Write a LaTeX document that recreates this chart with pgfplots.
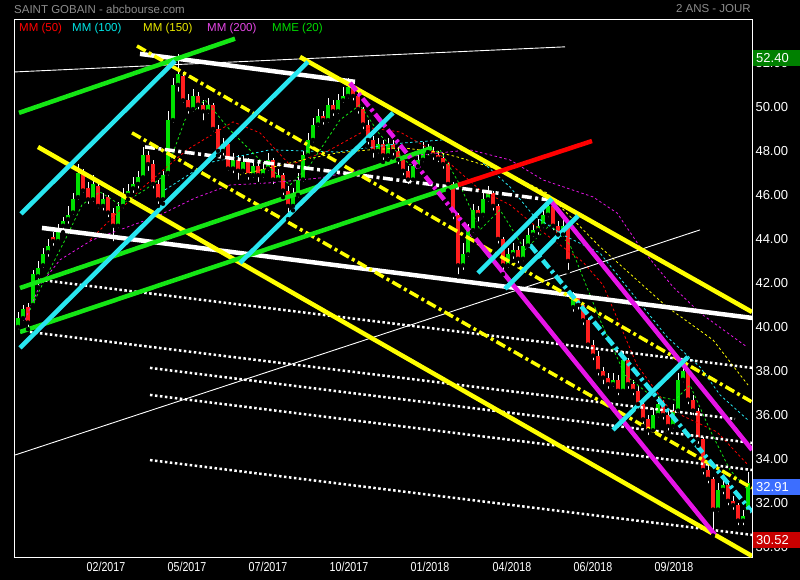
\documentclass[border=0pt]{standalone}
\usepackage{pgfplots}
\pgfplotsset{compat=1.18}
\usepackage{pgfplotstable}
\usepackage{fontspec}
\setmainfont{Liberation Sans}
\newfontfamily\narrowfont[FakeStretch=0.82]{Liberation Sans}
\definecolor{cy}{RGB}{40,230,240}
\definecolor{gr}{RGB}{20,230,20}
\definecolor{ye}{RGB}{255,255,0}
\definecolor{mg}{RGB}{230,20,230}
\definecolor{rd}{RGB}{255,0,0}
\definecolor{cgreen}{RGB}{0,225,0}
\definecolor{cred}{RGB}{255,30,30}
\definecolor{ttl}{RGB}{140,140,140}
\definecolor{boxg}{RGB}{0,128,0}
\definecolor{boxb}{RGB}{60,110,255}
\definecolor{boxr}{RGB}{200,0,0}

\pgfplotstableread{
x o h l c
18 40.0 40.7 39.8 40.4
23 40.4 41.0 40.2 40.8
28 40.9 41.1 39.9 40.2
33 41.0 42.6 40.9 42.4
38 42.3 43.0 41.8 42.7
43 42.8 43.6 42.6 43.3
48 43.4 44.0 43.1 43.7
53 44.1 44.3 43.6 43.9
58 43.9 44.7 43.8 44.5
63 44.6 45.0 44.3 44.8
68 44.9 45.5 44.6 45.1
73 45.2 46.1 45.0 45.8
78 45.9 47.4 45.7 47.0
83 47.0 47.2 46.0 46.2
88 46.3 46.6 45.5 45.8
93 45.8 46.9 45.6 46.5
98 46.4 46.6 45.3 45.5
103 45.5 46.1 45.2 45.8
108 45.9 46.0 44.9 45.2
113 45.2 45.4 43.8 44.6
118 44.6 45.7 44.4 45.5
123 45.5 46.3 45.3 46.0
128 46.0 46.5 45.8 46.2
133 46.3 46.8 46.0 46.5
138 46.5 47.1 46.2 46.8
143 46.8 48.2 46.7 47.8
148 47.8 48.0 47.0 47.4
153 47.4 47.6 46.2 46.5
158 46.5 46.7 45.5 45.8
163 45.8 47.1 45.6 46.9
168 47.0 49.8 46.8 49.4
173 49.4 51.3 49.2 51.0
178 51.0 52.4 50.6 51.5
183 51.4 51.6 50.1 50.3
188 50.3 50.6 49.6 49.9
193 49.9 50.8 49.7 50.5
198 50.5 50.7 49.8 50.1
203 50.1 50.3 49.3 49.8
208 49.8 50.4 49.6 50.1
213 50.1 50.2 48.8 49.0
218 49.0 49.2 47.8 48.0
223 48.0 48.6 47.7 48.3
228 48.3 48.4 47.0 47.2
233 47.2 47.9 46.9 47.6
238 47.6 47.8 46.6 47.1
243 47.1 47.8 46.9 47.5
248 47.5 47.7 46.6 46.9
253 46.9 47.6 46.7 47.3
258 47.3 47.5 46.5 46.9
263 46.9 47.5 46.7 47.2
268 47.2 47.9 47.0 47.6
273 47.6 47.7 46.4 46.7
278 46.7 47.2 46.5 46.9
283 46.9 47.0 45.9 46.2
288 46.2 46.4 44.9 45.5
293 45.5 46.3 45.3 46.0
298 46.0 47.0 45.8 46.7
303 46.7 48.0 46.5 47.8
308 47.8 48.8 47.6 48.5
313 48.5 49.5 48.3 49.2
318 49.2 49.9 49.0 49.6
323 49.6 49.8 49.1 49.4
328 49.4 50.4 49.2 50.1
333 50.1 50.3 49.5 49.8
338 49.8 50.6 49.6 50.3
343 50.3 50.9 50.1 50.5
348 50.5 51.3 50.3 50.9
353 50.9 51.1 50.2 50.5
358 50.5 50.7 49.6 49.9
363 49.9 50.0 48.9 49.2
368 49.2 49.4 48.2 48.5
373 48.5 48.7 47.6 48.0
378 48.0 48.6 47.8 48.3
383 48.3 48.5 47.5 47.8
388 47.8 48.6 47.6 48.3
393 48.3 48.5 47.7 48.0
398 48.0 48.2 47.3 47.6
403 47.6 47.8 46.8 47.1
408 47.1 47.3 46.4 46.7
413 46.7 47.6 46.5 47.3
418 47.3 47.9 47.1 47.6
423 47.6 48.4 47.4 48.1
428 48.1 48.3 47.7 47.95
433 48.0 48.2 47.5 47.8
438 47.8 48.0 47.4 47.65
443 47.7 47.9 47.1 47.4
448 47.4 47.5 46.2 46.5
453 46.5 46.6 44.8 45.1
458 45.1 45.2 42.3 42.8
463 42.8 43.8 42.5 43.3
468 43.3 44.7 43.1 44.4
473 44.4 45.6 44.2 45.3
478 45.3 45.5 44.7 45.1
483 45.1 46.1 44.9 45.8
488 45.8 46.4 45.6 46.1
493 46.1 46.2 45.2 45.5
498 45.5 45.6 43.7 44.0
503 44.0 44.1 42.4 42.8
508 42.8 43.6 42.6 43.3
513 43.3 43.8 43.0 43.5
518 43.5 43.7 42.8 43.1
523 43.1 44.0 42.9 43.7
528 43.7 44.5 43.5 44.2
533 44.2 44.7 44.0 44.4
538 44.4 44.9 44.1 44.6
543 44.6 45.4 44.4 45.1
548 45.1 45.8 44.9 45.5
553 45.5 45.6 44.3 44.6
558 44.6 44.8 43.9 44.2
563 44.2 44.9 44.0 44.6
568 44.6 44.7 42.5 43.0
573 40.9 41.6 40.6 41.3
578 41.3 41.5 40.7 41.0
583 41.0 41.1 40.0 40.3
588 40.3 40.4 38.9 39.2
593 39.2 39.4 38.4 38.7
598 38.7 38.9 37.7 38.0
603 38.0 38.2 37.3 37.7
608 37.7 37.9 37.1 37.4
613 37.4 37.9 37.2 37.6
618 37.6 37.8 36.8 37.1
623 37.1 38.9 37.0 38.5
628 38.5 38.6 37.1 37.4
633 37.4 37.6 36.8 37.1
638 37.1 37.3 36.2 36.5
643 36.5 36.7 35.5 35.8
648 35.8 36.0 35.0 35.3
653 35.3 36.3 35.1 36.0
658 36.0 36.8 35.8 36.5
663 36.5 36.7 35.7 36.0
668 36.0 36.2 35.2 35.5
673 35.5 36.5 35.3 36.2
678 36.2 37.9 36.0 37.6
683 37.6 38.5 37.4 38.0
688 38.0 38.1 36.4 36.7
693 36.7 36.9 35.9 36.2
698 36.2 36.3 34.6 34.9
703 34.9 35.0 33.2 33.5
708 33.5 33.8 32.8 33.1
713 33.1 33.2 30.52 31.7
718 31.7 32.9 31.5 32.6
723 32.6 33.1 32.3 32.8
728 32.8 32.9 31.8 32.1
733 32.1 32.3 31.6 31.9
738 31.9 32.0 30.9 31.2
743 31.2 31.7 30.9 31.4
748 31.6 33.4 31.5 32.91
}\candles

\begin{document}
\begin{tikzpicture}
\useasboundingbox (0,0) rectangle (800pt,580pt);
\fill[black] (0,0) rectangle (800pt,580pt);
\begin{axis}[
  at={(14pt,22pt)}, anchor=south west,
  scale only axis, width=738pt, height=538pt,
  xmin=14, xmax=752, ymin=29.5, ymax=53.95,
  axis background/.style={fill=black},
  axis line style={white, line width=1pt},
  major tick length=0pt,
  ytick={30,32,...,52},
  yticklabel pos=right,
  /pgf/number format/assume math mode=true,
  yticklabel={\pgfmathprintnumber[fixed,fixed zerofill,precision=2]{\tick}},
  yticklabel style={white, font=\fontsize{13}{15}\selectfont},
  xtick={106,187,268,349,430,512,593,674},
  xticklabels={02/2017,05/2017,07/2017,10/2017,01/2018,04/2018,06/2018,09/2018},
  xticklabel style={white, font=\narrowfont\fontsize{13}{15}\selectfont, yshift=-1pt},
]
% candle wicks
\addplot[only marks, mark=none, forget plot, error bars/.cd, y dir=plus, y explicit, error mark=none,
  error bar style={white, line width=0.7pt}]
  table[x=x, y=l, y error expr=\thisrow{h}-\thisrow{l}] {\candles};
% up bodies
\addplot[only marks, mark=none, forget plot, restrict expr to domain={\thisrow{c}-\thisrow{o}}{0:100},
  error bars/.cd, y dir=plus, y explicit, error mark=none,
  error bar style={cgreen, line width=3.6pt}]
  table[x=x, y=o, y error expr=\thisrow{c}-\thisrow{o}] {\candles};
% down bodies
\addplot[only marks, mark=none, forget plot, restrict expr to domain={\thisrow{o}-\thisrow{c}}{0.0001:100},
  error bars/.cd, y dir=plus, y explicit, error mark=none,
  error bar style={cred, line width=3.6pt}]
  table[x=x, y=c, y error expr=\thisrow{o}-\thisrow{c}] {\candles};

% moving averages
\addplot[rd, line width=0.8pt, dash pattern=on 2.5pt off 2.5pt] coordinates {
(90,43.95) (97,44.27) (140,46.23) (187,48.05) (233,49.32) (260,48.82) (290,47.36) (330,48.05) (370,49.05) (400,48.86) (440,47.82) (480,46.23) (510,45.55) (540,44.41) (583,42.95) (603,41.91) (637,38.27) (670,36.23) (717,35.23) (748,33.73)};
\addplot[cy, line width=0.8pt, dash pattern=on 2.5pt off 2.5pt] coordinates {
(165,46.23) (207,47.45) (270,48.05) (337,47.95) (403,48.36) (443,48.5) (467,48.05) (488,47.27) (510,46.36) (533,45.09) (563,44.18) (600,43.36) (627,41.82) (667,39.55) (700,38.18) (720,36.91) (748,35.77)};
\addplot[ye, line width=0.8pt, dash pattern=on 2.5pt off 2.5pt] coordinates {
(240,46.91) (303,47.59) (337,47.91) (370,48.05) (403,48.14) (437,47.95) (457,47.73) (500,47.14) (547,46.09) (600,43.64) (667,40.91) (713,39.41) (748,37.36)};
\addplot[mg, line width=0.8pt, dash pattern=on 2.5pt off 2.5pt] coordinates {
(25,40.32) (40,41.91) (60,43.05) (92,43.95) (125,44.5) (160,45.09) (195,45.86) (230,46.45) (270,46.55) (320,46.77) (370,47.23) (420,47.82) (470,48.05) (510,47.59) (543,46.68) (593,45.91) (617,45.18) (640,43.64) (673,41.82) (700,40.64) (733,39.55) (747,39.09)};
\addplot[gr, line width=0.8pt, dash pattern=on 2.5pt off 2.5pt] coordinates {
(30,40.77) (48,42.45) (65,43.95) (82,45.55) (100,46.14) (120,45.55) (145,46.23) (165,46.91) (185,49.41) (205,50.32) (230,48.95) (260,47.59) (290,46.45) (310,47.36) (340,49.41) (360,50.09) (380,48.73) (410,47.36) (440,48.05) (460,46.45) (480,44.41) (500,45.32) (525,43.5) (550,44.64) (570,43.73) (600,40.32) (625,37.82) (650,36.91) (675,36.68) (690,37.36) (710,35.32) (730,33.5) (748,32.59)};

% thin white lines
\addplot[white, line width=0.9pt] coordinates {(15,51.59) (565,52.73)};
\addplot[white, line width=0.9pt] coordinates {(15,34.18) (700,44.41)};
% dotted white lines
\addplot[white, line width=2.5pt, dash pattern=on 2.5pt off 2.5pt] coordinates {(40,42.14) (752,38.14)};
\addplot[white, line width=2.5pt, dash pattern=on 2.5pt off 2.5pt] coordinates {(30,39.77) (735,35.82)};
\addplot[white, line width=2.5pt, dash pattern=on 2.5pt off 2.5pt] coordinates {(150,38.14) (752,34.73)};
\addplot[white, line width=2.5pt, dash pattern=on 2.5pt off 2.5pt] coordinates {(150,36.91) (752,33.5)};
\addplot[white, line width=2.5pt, dash pattern=on 2.5pt off 2.5pt] coordinates {(150,33.95) (752,30.55)};
% white thick and dash-dot
\addplot[white, line width=4.5pt] coordinates {(140,52.41) (355,51.14)};
\addplot[white, line width=4.5pt] coordinates {(42,44.5) (752,40.41)};
\addplot[white, line width=3.5pt, dash pattern=on 10pt off 3.5pt on 3pt off 3.5pt] coordinates {(145,48.18) (550,45.77)};
% yellow
\addplot[ye, line width=4.5pt] coordinates {(300,52.27) (752,40.68)};
\addplot[ye, line width=4.5pt] coordinates {(38,48.18) (752,29.59)};
\addplot[ye, line width=3.5pt, dash pattern=on 10pt off 3.5pt on 3pt off 3.5pt] coordinates {(137,52.77) (752,36.59)};
\addplot[ye, line width=3.5pt, dash pattern=on 10pt off 3.5pt on 3pt off 3.5pt] coordinates {(132,48.82) (752,32.68)};
% green and red
\addplot[gr, line width=4.5pt] coordinates {(19,49.73) (235,53.1)};
\addplot[gr, line width=4.5pt] coordinates {(20,41.77) (432,48.14)};
\addplot[gr, line width=4.5pt] coordinates {(20,39.77) (458,46.45)};
\addplot[rd, line width=4.5pt] coordinates {(458,46.45) (592,48.45)};
% magenta
\addplot[mg, line width=4.5pt, dash pattern=on 10pt off 3.5pt on 3pt off 3.5pt] coordinates {(350,51.09) (480,43.77)};
\addplot[mg, line width=4.5pt] coordinates {(480,43.77) (715,30.55)};
\addplot[mg, line width=4.5pt] coordinates {(550,45.77) (752,34.41)};
% cyan
\addplot[cy, line width=4.5pt] coordinates {(21,45.14) (175,52.09)};
\addplot[cy, line width=4.5pt] coordinates {(20,39.05) (308,52.05)};
\addplot[cy, line width=4.5pt] coordinates {(240,42.91) (393,49.73)};
\addplot[cy, line width=4.5pt] coordinates {(478,42.45) (552,45.82)};
\addplot[cy, line width=4.5pt] coordinates {(505,41.73) (578,45.05)};
\addplot[cy, line width=4.5pt] coordinates {(613,35.32) (688,38.64)};
\addplot[cy, line width=4.5pt, dash pattern=on 10pt off 3.5pt on 3pt off 3.5pt] coordinates {(530,43.73) (752,31.59)};
\end{axis}

% titles
\node[anchor=west, text=ttl, font=\fontsize{11.5}{13}\selectfont, inner sep=0pt] at (14pt,571pt) {SAINT GOBAIN - abcbourse.com};
\node[anchor=east, text=ttl, font=\fontsize{11.5}{13}\selectfont, inner sep=0pt] at (751pt,571pt) {2 ANS - JOUR};
% legend
\begin{scope}[every node/.style={anchor=base west, inner sep=0pt, font=\fontsize{11.5}{13}\selectfont}]
\node[text=rd] at (19pt,548pt) {MM (50)};
\node[text={rgb,255:red,0;green,230;blue,230}] at (72pt,548pt) {MM (100)};
\node[text={rgb,255:red,235;green,235;blue,0}] at (143pt,548pt) {MM (150)};
\node[text={rgb,255:red,230;green,70;blue,230}] at (207pt,548pt) {MM (200)};
\node[text={rgb,255:red,0;green,220;blue,0}] at (272pt,548pt) {MME (20)};
\end{scope}
% value boxes (cover the 52.00 and 30.00 labels as in the reference)
\fill[boxg] (753pt,514pt) rectangle (800pt,530pt);
\node[anchor=west, text=white, font=\fontsize{13}{15}\selectfont, inner sep=0pt] at (756pt,522pt) {52.40};
\fill[boxb] (753pt,85pt) rectangle (800pt,101pt);
\node[anchor=west, text=white, font=\fontsize{13}{15}\selectfont, inner sep=0pt] at (756pt,93pt) {32.91};
\fill[boxr] (753pt,32pt) rectangle (800pt,48pt);
\node[anchor=west, text=white, font=\fontsize{13}{15}\selectfont, inner sep=0pt] at (756pt,40pt) {30.52};
\end{tikzpicture}
\end{document}
